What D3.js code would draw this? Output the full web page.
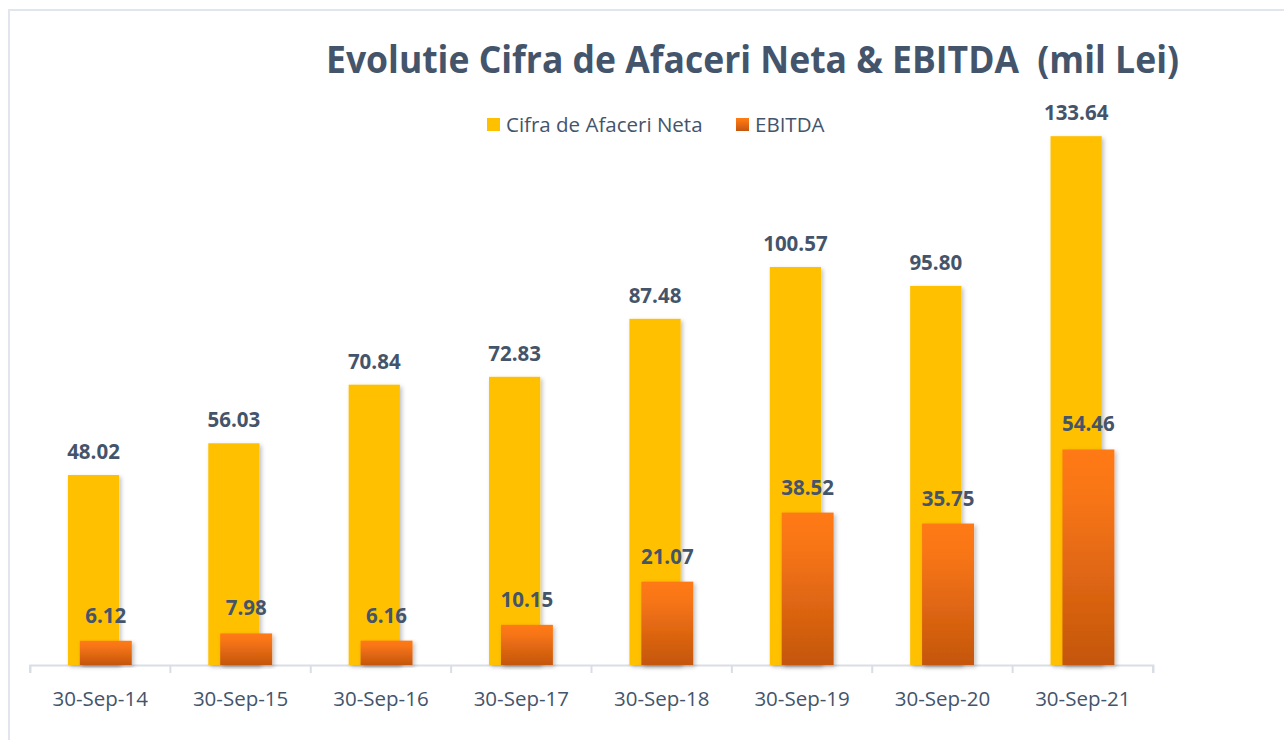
<!DOCTYPE html>
<html>
<head>
<meta charset="utf-8">
<script src="https://cdn.jsdelivr.net/npm/d3@7"></script>
<style>
  html, body { margin: 0; padding: 0; background: #fff; }
  svg { display: block; }
  text { font-family: "Open Sans", "Noto Sans", sans-serif; }
</style>
</head>
<body>
<svg id="chart" width="1284" height="740"></svg>
<script>
const categories = ["30-Sep-14","30-Sep-15","30-Sep-16","30-Sep-17","30-Sep-18","30-Sep-19","30-Sep-20","30-Sep-21"];
const cifraValues = [48.02, 56.03, 70.84, 72.83, 87.48, 100.57, 95.80, 133.64];
const ebitdaValues = [6.12, 7.98, 6.16, 10.15, 21.07, 38.52, 35.75, 54.46];
const seriesNames = ["Cifra de Afaceri Neta", "EBITDA"];
const titleText = "Evolutie Cifra de Afaceri Neta & EBITDA  (mil Lei)";

const svg = d3.select("#chart");
const textColor = "#44546A";
const yellow = "#FFC000";

const defs = svg.append("defs");
const grad = defs.append("linearGradient").attr("id", "orangeGrad")
  .attr("x1", 0).attr("y1", 0).attr("x2", 0).attr("y2", 1);
grad.append("stop").attr("offset", "0%").attr("stop-color", "#FF7A12");
grad.append("stop").attr("offset", "20%").attr("stop-color", "#F97614");
grad.append("stop").attr("offset", "100%").attr("stop-color", "#C4560F");
const filt = defs.append("filter").attr("id", "shadow")
  .attr("x", "-20%").attr("y", "-5%").attr("width", "150%").attr("height", "115%");
filt.append("feDropShadow").attr("dx", 2).attr("dy", 2).attr("stdDeviation", 2)
  .attr("flood-color", "#000").attr("flood-opacity", 0.25);

// frame
svg.append("rect").attr("x", 9).attr("y", 10).attr("width", 1300).attr("height", 760)
  .attr("fill", "none").attr("stroke", "#E1E6EE").attr("stroke-width", 2);

// title
svg.append("text").attr("x", 326).attr("y", 73)
  .attr("fill", textColor).attr("font-weight", "bold").attr("font-size", 38)
  .attr("textLength", 853).attr("lengthAdjust", "spacingAndGlyphs")
  .style("white-space", "pre")
  .text(titleText);

// scales
const x = d3.scaleBand().domain(categories).range([30, 1153]).padding(0);
const y = d3.scaleLinear().domain([0, 140]).range([665, 111]);
const bw = x.bandwidth();
const yOff = bw * 0.27, yW = bw * 0.365;
const oOff = bw * 0.355, oW = bw * 0.37;

// axis
const axis = d3.axisBottom(x).tickSize(8).tickSizeOuter(8).tickPadding(18);
const gAxis = svg.append("g").attr("transform", "translate(0,665)");
gAxis.call(axis);
gAxis.select(".domain").attr("stroke", "#D9DEE6").attr("stroke-width", 2);
gAxis.selectAll(".tick line").remove();
// boundary ticks between categories
const bounds = categories.map(c => x(c)).concat([x(categories[categories.length-1]) + bw]);
gAxis.selectAll("line.bt").data(bounds).enter().append("line").attr("class", "bt")
  .attr("x1", d => d).attr("x2", d => d).attr("y1", 0).attr("y2", 8)
  .attr("stroke", "#D9DEE6").attr("stroke-width", 2);
gAxis.selectAll(".tick text").attr("fill", textColor).attr("font-size", 20.5)
  .style("font-family", "'Open Sans', sans-serif");

// bars
const data = categories.map((c, i) => ({ c, a: cifraValues[i], e: ebitdaValues[i] }));
svg.append("g").selectAll("rect").data(data).enter().append("rect")
  .attr("x", d => x(d.c) + yOff).attr("width", yW)
  .attr("y", d => y(d.a)).attr("height", d => y(0) - y(d.a))
  .attr("fill", yellow).attr("filter", "url(#shadow)");
svg.append("g").selectAll("rect").data(data).enter().append("rect")
  .attr("x", d => x(d.c) + oOff).attr("width", oW)
  .attr("y", d => y(d.e)).attr("height", d => y(0) - y(d.e))
  .attr("fill", "url(#orangeGrad)").attr("filter", "url(#shadow)");

// labels
svg.append("g").selectAll("text").data(data).enter().append("text")
  .attr("x", d => x(d.c) + yOff + yW / 2).attr("y", d => y(d.a) - 16)
  .attr("text-anchor", "middle").attr("fill", textColor)
  .attr("font-weight", "bold").attr("font-size", 20.5)
  .text(d => d.a.toFixed(2));
svg.append("g").selectAll("text").data(data).enter().append("text")
  .attr("x", d => x(d.c) + oOff + oW / 2).attr("y", d => y(d.e) - 18)
  .attr("text-anchor", "middle").attr("fill", textColor)
  .attr("font-weight", "bold").attr("font-size", 20.5)
  .text(d => d.e.toFixed(2));

// legend
const legendItems = [
  { name: seriesNames[0], fill: yellow, x: 487 },
  { name: seriesNames[1], fill: "url(#orangeGrad)", x: 736 }
];
const lg = svg.append("g");
legendItems.forEach(it => {
  lg.append("rect").attr("x", it.x).attr("y", 118).attr("width", 13).attr("height", 13).attr("fill", it.fill);
  lg.append("text").attr("x", it.x + 19).attr("y", 132)
    .attr("fill", textColor).attr("font-size", 20.5).text(it.name);
});
</script>
</body>
</html>
